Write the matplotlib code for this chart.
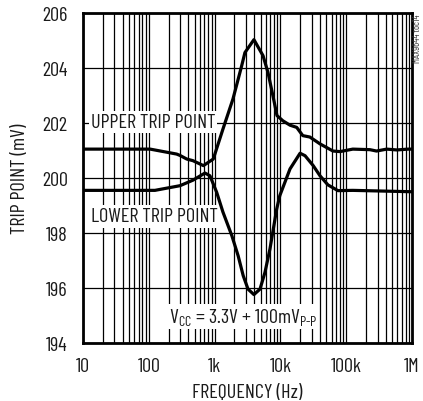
import matplotlib
matplotlib.use("Agg")
import matplotlib.pyplot as plt
from matplotlib.ticker import LogLocator, FixedLocator, NullFormatter
from matplotlib import font_manager

# ---- data ----
upper_freq = [10, 105, 265, 298, 377, 468, 676, 955, 1340, 1900, 2580, 2890, 3960,
              5440, 6470, 7700, 8870, 10900, 14000, 17700, 21900, 28000, 40000,
              63000, 80500, 126000, 229000, 289000, 412000, 587000, 877000, 1000000]
upper_mv = [201.05, 201.05, 200.87, 200.82, 200.69, 200.63, 200.45, 200.69, 201.78,
            202.87, 204.08, 204.56, 205.03, 204.45, 203.84, 202.99, 202.27, 202.08,
            201.92, 201.84, 201.54, 201.49, 201.24, 200.98, 200.96, 201.05, 201.03,
            200.98, 201.05, 201.02, 201.05, 201.05]

lower_freq = [10, 124, 160, 298, 468, 714, 850, 1075, 1340, 1830, 2280, 2720, 3220,
              3960, 4900, 5830, 6940, 8780, 9800, 14000, 19900, 23700, 31500, 40000,
              52700, 75000, 126000, 1000000]
lower_mv = [199.55, 199.55, 199.6, 199.72, 199.92, 200.18, 200.08, 199.48, 198.76,
            197.9, 197.17, 196.45, 195.96, 195.76, 195.96, 196.57, 197.42, 198.87,
            199.36, 200.33, 200.9, 200.81, 200.45, 200.08, 199.75, 199.54, 199.55,
            199.5]

x_ticks = [10, 100, 1000, 10000, 100000, 1000000]
x_tick_labels = ["10", "100", "1k", "10k", "100k", "1M"]
y_ticks = [194, 196, 198, 200, 202, 204, 206]

# ---- fonts ----
names = {f.name for f in font_manager.fontManager.ttflist}
fam = "DejaVu Sans"
for cand in ["Barlow Condensed", "Archivo Narrow", "Liberation Sans Narrow"]:
    if cand in names:
        fam = cand
        break
plt.rcParams["font.family"] = [fam, "DejaVu Sans"]
plt.rcParams["mathtext.fontset"] = "custom"
plt.rcParams["mathtext.rm"] = fam
plt.rcParams["mathtext.it"] = fam
plt.rcParams["mathtext.default"] = "regular"

FS = 14.5
TC = "#1a1a1a"

fig = plt.figure(figsize=(4.23, 4.02), dpi=100)
ax = fig.add_axes([0.1962, 0.1443, 0.7778, 0.8209])

ax.plot(upper_freq, upper_mv, color="black", lw=2.3, solid_joinstyle="round", zorder=5)
ax.plot(lower_freq, lower_mv, color="black", lw=2.3, solid_joinstyle="round", zorder=5)

ax.set_xscale("log")
ax.set_xlim(10, 1e6)
ax.set_ylim(194, 206)
ax.xaxis.set_major_locator(FixedLocator(x_ticks))
ax.set_xticklabels(x_tick_labels)
ax.xaxis.set_minor_locator(LogLocator(base=10, subs=range(2, 10), numticks=20))
ax.xaxis.set_minor_formatter(NullFormatter())
ax.set_yticks(y_ticks)

ax.grid(which="major", axis="both", color="black", lw=0.9)
ax.grid(which="minor", axis="x", color="black", lw=0.9)
ax.tick_params(which="both", length=0, labelsize=FS, colors=TC)
ax.tick_params(axis="y", pad=11)
ax.tick_params(axis="x", pad=10)
for s in ax.spines.values():
    s.set_linewidth(2.0)

ax.set_xlabel("FREQUENCY (Hz)", fontsize=FS, color=TC, labelpad=6)
ax.set_ylabel("TRIP POINT (mV)", fontsize=FS, color=TC, labelpad=9)

box = dict(facecolor="white", edgecolor="none", pad=1.5)
ax.text(13.2, 202.02, "UPPER TRIP POINT", fontsize=FS, color=TC,
        va="center", ha="left", bbox=box, zorder=4)
ax.text(13.2, 198.6, "LOWER TRIP POINT", fontsize=FS, color=TC,
        va="center", ha="left", bbox=box, zorder=4)
ax.text(200, 194.98, r"V$_{\mathrm{CC}}$ = 3.3V + 100mV$_{\mathrm{P\text{-}P}}$",
        fontsize=FS, color=TC, va="center", ha="left", bbox=box, zorder=4)

fig.text(0.986, 0.965, "MAX9644 toc14", rotation=90, fontsize=7, color="#333333",
         ha="center", va="top")

fig.savefig("out.png", dpi=100)
